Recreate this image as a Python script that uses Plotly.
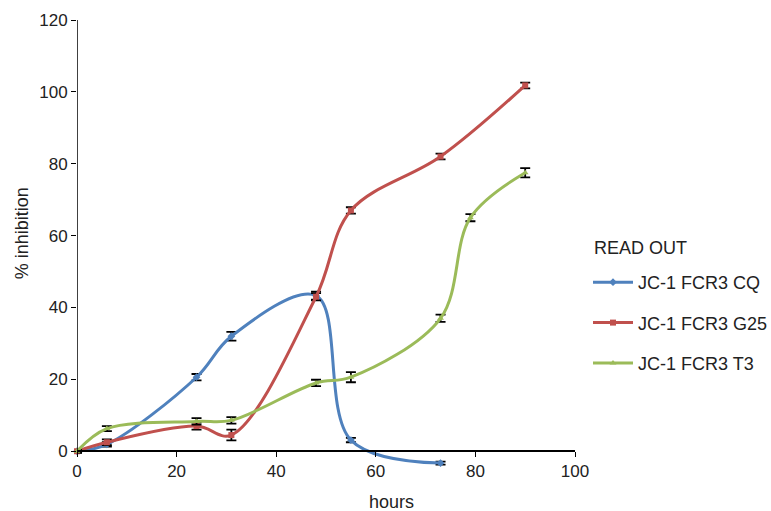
import plotly.graph_objects as go

hours_cq = [0, 6, 24, 31, 48, 55, 73]
cq = [0, 1.9, 20.6, 32, 43.3, 3.1, -3.3]
cq_err = [0.4, 0.6, 0.9, 1.2, 1.1, 0.6, 0.4]

hours_g25 = [0, 6, 24, 31, 48, 55, 73, 90]
g25 = [0, 2.5, 7, 4.5, 43, 67, 82, 101.8]
g25_err = [0.4, 0.8, 1.0, 1.5, 1.0, 0.9, 0.8, 0.8]

hours_t3 = [0, 6, 24, 31, 48, 55, 73, 79, 90]
t3 = [0, 6.3, 8.3, 8.6, 19, 20.6, 37, 65, 77.5]
t3_err = [0.4, 0.7, 0.9, 0.9, 0.9, 1.4, 1.0, 1.0, 1.3]

names = ["JC-1 FCR3 CQ", "JC-1 FCR3 G25", "JC-1 FCR3 T3"]
colors = ["#4F81BD", "#C0504D", "#9BBB59"]
symbols = ["diamond", "square", "triangle-up"]

x_ticks = [0, 20, 40, 60, 80, 100]
y_ticks = [0, 20, 40, 60, 80, 100, 120]

fig = go.Figure()
for xs, ys, es, n, c, s in zip([hours_cq, hours_g25, hours_t3], [cq, g25, t3],
                               [cq_err, g25_err, t3_err], names, colors, symbols):
    fig.add_trace(go.Scatter(
        x=xs, y=ys, name=n, mode="lines+markers",
        line=dict(color=c, width=3, shape="spline", smoothing=1),
        marker=dict(symbol=s, size=6, color=c),
        error_y=dict(type="data", array=es, visible=True, color="black", thickness=1.8, width=5),
        cliponaxis=False, legendgroup=n,
    ))

font = "Liberation Sans, Arial, sans-serif"
plot_bottom = 479.7
plot_h = 460.0
fig.update_layout(
    width=771, height=511,
    margin=dict(l=77, r=196, t=20, b=31, autoexpand=False),
    plot_bgcolor="white", paper_bgcolor="white",
    font=dict(family=font, size=17, color="#222"),
    showlegend=True,
    legend=dict(x=588 / 771, y=1 - 264 / 511, xref="container", yref="container",
                xanchor="left", yanchor="top",
                font=dict(size=18), tracegroupgap=14, traceorder="grouped",
                itemwidth=40),
    xaxis=dict(range=[0, 100], tickvals=x_ticks, showgrid=False, zeroline=False,
               showline=True, linecolor="black", linewidth=1.5, ticks="outside",
               ticklen=5, tickcolor="black", anchor="free", position=0.0625,
               tickfont=dict(size=17), automargin=False),
    yaxis=dict(range=[-8, 120], tickvals=y_ticks, showgrid=False, zeroline=False,
               showline=False, ticks="outside", ticklen=5, tickcolor="black",
               tickfont=dict(size=17), automargin=False),
    shapes=[dict(type="line", xref="x", yref="y", x0=0, x1=0, y0=0, y1=120,
                 line=dict(color="black", width=1.5))],
    annotations=[
        dict(text="hours", xref="paper", yref="paper", x=(391 - 77) / 498,
             y=(plot_bottom - 502) / plot_h,
             xanchor="center", yanchor="middle", showarrow=False, font=dict(size=18)),
        dict(text="% inhibition", xref="paper", yref="paper", x=(22 - 77) / 498,
             y=(plot_bottom - 233) / plot_h,
             xanchor="center", yanchor="middle", textangle=-90, showarrow=False,
             font=dict(size=18)),
        dict(text="READ OUT", xref="paper", yref="paper", x=(592 - 77) / 498,
             y=(plot_bottom - 248) / plot_h,
             xanchor="left", yanchor="middle", showarrow=False, font=dict(size=18)),
    ],
)
fig.write_html("out.html", post_script="document.body.style.margin='0px';",
               config={"displayModeBar": False})
